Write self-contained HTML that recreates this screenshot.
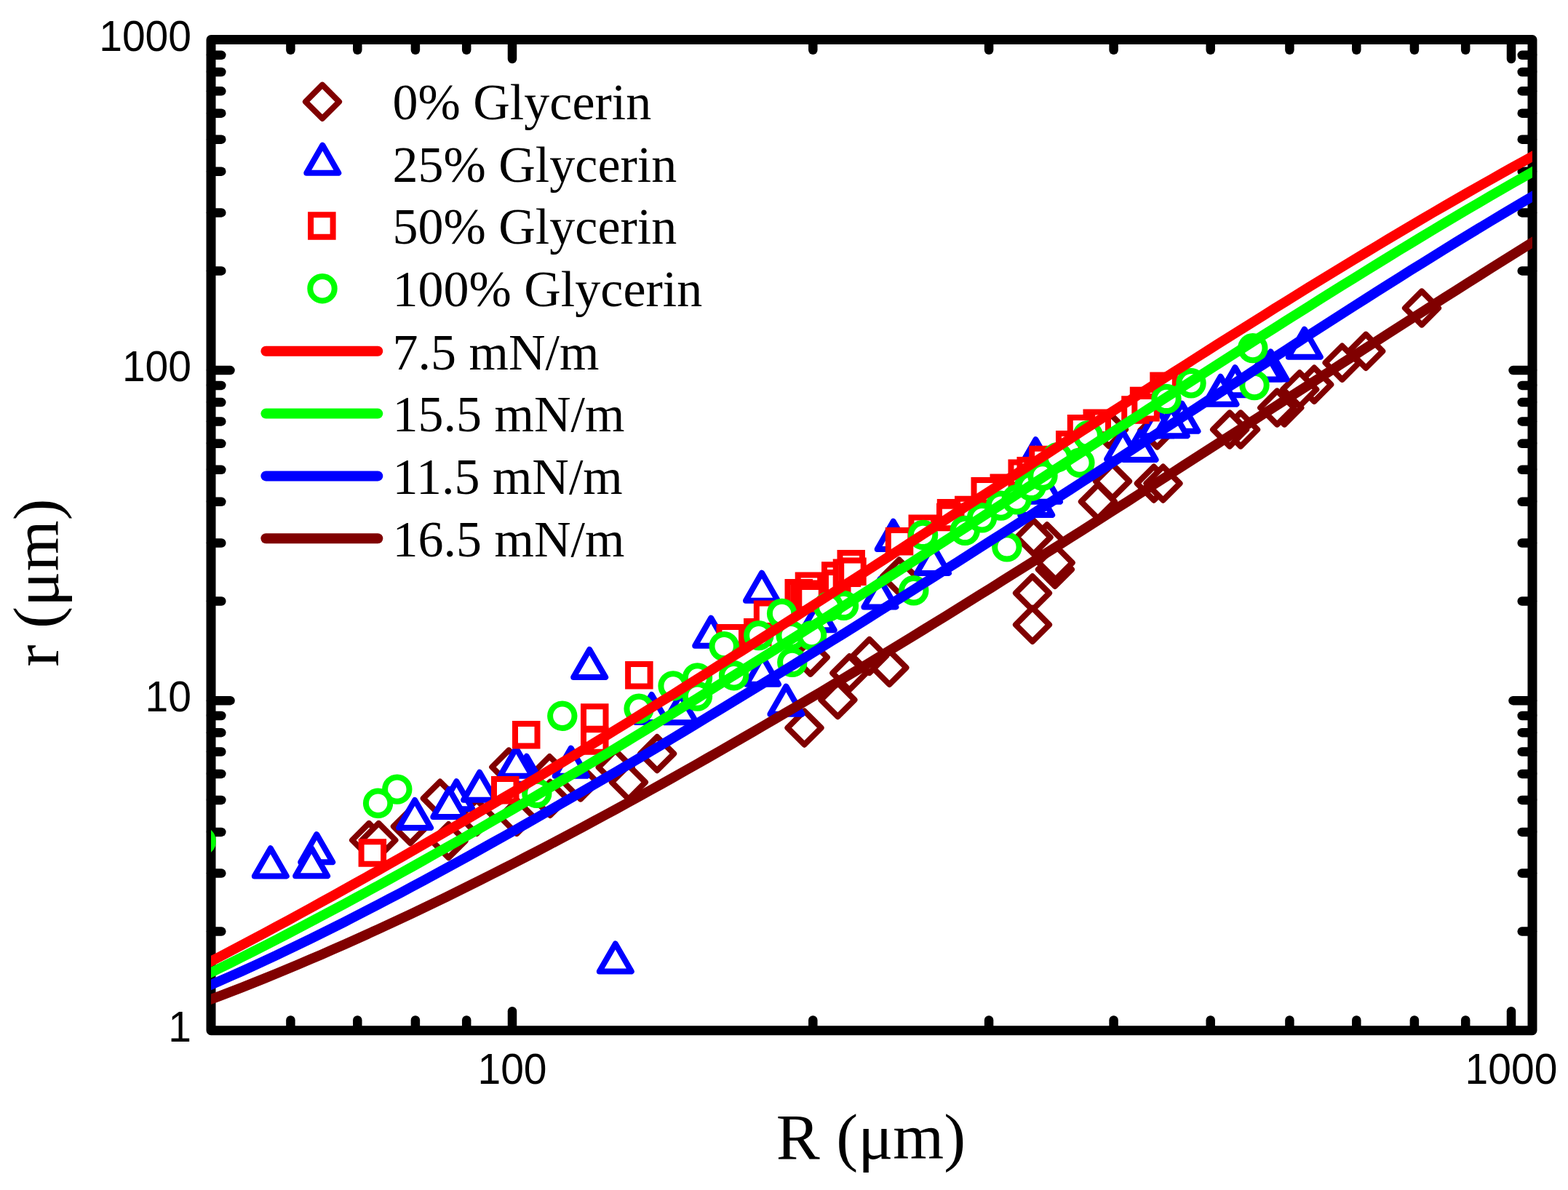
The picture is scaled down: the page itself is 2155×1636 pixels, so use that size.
<!DOCTYPE html>
<html lang="en"><head><meta charset="utf-8"><title>r vs R</title>
<style>html,body{margin:0;padding:0;background:#fff;}body{width:2155px;height:1636px;overflow:hidden;}svg{display:block;}.tk{font-family:"Liberation Sans",Arial,Helvetica,sans-serif;font-size:57px;fill:#000;}.lg{font-family:"Liberation Serif","Times New Roman",Times,serif;font-size:70px;fill:#000;}.ax{font-family:"Liberation Serif","Times New Roman",Times,serif;font-size:88px;fill:#000;}</style></head><body>
<svg xmlns="http://www.w3.org/2000/svg" width="2155" height="1636" viewBox="0 0 2155 1636">
<rect x="0" y="0" width="2155" height="1636" fill="#fff"/>
<defs><clipPath id="pc"><rect x="290.0" y="54.5" width="1816.0" height="1362.2"/></clipPath></defs>
<g stroke="#000" stroke-width="12.5" stroke-linecap="round" fill="none">
<line x1="399.4" y1="1416.7" x2="399.4" y2="1402.4"/>
<line x1="399.4" y1="54.5" x2="399.4" y2="68.8"/>
<line x1="491.3" y1="1416.7" x2="491.3" y2="1402.4"/>
<line x1="491.3" y1="54.5" x2="491.3" y2="68.8"/>
<line x1="570.9" y1="1416.7" x2="570.9" y2="1402.4"/>
<line x1="570.9" y1="54.5" x2="570.9" y2="68.8"/>
<line x1="641.2" y1="1416.7" x2="641.2" y2="1402.4"/>
<line x1="641.2" y1="54.5" x2="641.2" y2="68.8"/>
<line x1="704.0" y1="1416.7" x2="704.0" y2="1390.2"/>
<line x1="704.0" y1="54.5" x2="704.0" y2="81.0"/>
<line x1="1117.3" y1="1416.7" x2="1117.3" y2="1402.4"/>
<line x1="1117.3" y1="54.5" x2="1117.3" y2="68.8"/>
<line x1="1359.1" y1="1416.7" x2="1359.1" y2="1402.4"/>
<line x1="1359.1" y1="54.5" x2="1359.1" y2="68.8"/>
<line x1="1530.6" y1="1416.7" x2="1530.6" y2="1402.4"/>
<line x1="1530.6" y1="54.5" x2="1530.6" y2="68.8"/>
<line x1="1663.7" y1="1416.7" x2="1663.7" y2="1402.4"/>
<line x1="1663.7" y1="54.5" x2="1663.7" y2="68.8"/>
<line x1="1772.4" y1="1416.7" x2="1772.4" y2="1402.4"/>
<line x1="1772.4" y1="54.5" x2="1772.4" y2="68.8"/>
<line x1="1864.3" y1="1416.7" x2="1864.3" y2="1402.4"/>
<line x1="1864.3" y1="54.5" x2="1864.3" y2="68.8"/>
<line x1="1943.9" y1="1416.7" x2="1943.9" y2="1402.4"/>
<line x1="1943.9" y1="54.5" x2="1943.9" y2="68.8"/>
<line x1="2014.2" y1="1416.7" x2="2014.2" y2="1402.4"/>
<line x1="2014.2" y1="54.5" x2="2014.2" y2="68.8"/>
<line x1="2077.0" y1="1416.7" x2="2077.0" y2="1390.2"/>
<line x1="2077.0" y1="54.5" x2="2077.0" y2="81.0"/>
<line x1="290.0" y1="1280.6" x2="304.3" y2="1280.6"/>
<line x1="2106.0" y1="1280.6" x2="2091.7" y2="1280.6"/>
<line x1="290.0" y1="1200.6" x2="304.3" y2="1200.6"/>
<line x1="2106.0" y1="1200.6" x2="2091.7" y2="1200.6"/>
<line x1="290.0" y1="1143.9" x2="304.3" y2="1143.9"/>
<line x1="2106.0" y1="1143.9" x2="2091.7" y2="1143.9"/>
<line x1="290.0" y1="1099.9" x2="304.3" y2="1099.9"/>
<line x1="2106.0" y1="1099.9" x2="2091.7" y2="1099.9"/>
<line x1="290.0" y1="1063.9" x2="304.3" y2="1063.9"/>
<line x1="2106.0" y1="1063.9" x2="2091.7" y2="1063.9"/>
<line x1="290.0" y1="1033.5" x2="304.3" y2="1033.5"/>
<line x1="2106.0" y1="1033.5" x2="2091.7" y2="1033.5"/>
<line x1="290.0" y1="1007.2" x2="304.3" y2="1007.2"/>
<line x1="2106.0" y1="1007.2" x2="2091.7" y2="1007.2"/>
<line x1="290.0" y1="984.0" x2="304.3" y2="984.0"/>
<line x1="2106.0" y1="984.0" x2="2091.7" y2="984.0"/>
<line x1="290.0" y1="963.2" x2="316.5" y2="963.2"/>
<line x1="2106.0" y1="963.2" x2="2079.5" y2="963.2"/>
<line x1="290.0" y1="826.5" x2="304.3" y2="826.5"/>
<line x1="2106.0" y1="826.5" x2="2091.7" y2="826.5"/>
<line x1="290.0" y1="746.5" x2="304.3" y2="746.5"/>
<line x1="2106.0" y1="746.5" x2="2091.7" y2="746.5"/>
<line x1="290.0" y1="689.8" x2="304.3" y2="689.8"/>
<line x1="2106.0" y1="689.8" x2="2091.7" y2="689.8"/>
<line x1="290.0" y1="645.8" x2="304.3" y2="645.8"/>
<line x1="2106.0" y1="645.8" x2="2091.7" y2="645.8"/>
<line x1="290.0" y1="609.8" x2="304.3" y2="609.8"/>
<line x1="2106.0" y1="609.8" x2="2091.7" y2="609.8"/>
<line x1="290.0" y1="579.4" x2="304.3" y2="579.4"/>
<line x1="2106.0" y1="579.4" x2="2091.7" y2="579.4"/>
<line x1="290.0" y1="553.1" x2="304.3" y2="553.1"/>
<line x1="2106.0" y1="553.1" x2="2091.7" y2="553.1"/>
<line x1="290.0" y1="529.9" x2="304.3" y2="529.9"/>
<line x1="2106.0" y1="529.9" x2="2091.7" y2="529.9"/>
<line x1="290.0" y1="509.1" x2="316.5" y2="509.1"/>
<line x1="2106.0" y1="509.1" x2="2079.5" y2="509.1"/>
<line x1="290.0" y1="372.4" x2="304.3" y2="372.4"/>
<line x1="2106.0" y1="372.4" x2="2091.7" y2="372.4"/>
<line x1="290.0" y1="292.4" x2="304.3" y2="292.4"/>
<line x1="2106.0" y1="292.4" x2="2091.7" y2="292.4"/>
<line x1="290.0" y1="235.7" x2="304.3" y2="235.7"/>
<line x1="2106.0" y1="235.7" x2="2091.7" y2="235.7"/>
<line x1="290.0" y1="191.7" x2="304.3" y2="191.7"/>
<line x1="2106.0" y1="191.7" x2="2091.7" y2="191.7"/>
<line x1="290.0" y1="155.7" x2="304.3" y2="155.7"/>
<line x1="2106.0" y1="155.7" x2="2091.7" y2="155.7"/>
<line x1="290.0" y1="125.3" x2="304.3" y2="125.3"/>
<line x1="2106.0" y1="125.3" x2="2091.7" y2="125.3"/>
<line x1="290.0" y1="99.0" x2="304.3" y2="99.0"/>
<line x1="2106.0" y1="99.0" x2="2091.7" y2="99.0"/>
<line x1="290.0" y1="75.8" x2="304.3" y2="75.8"/>
<line x1="2106.0" y1="75.8" x2="2091.7" y2="75.8"/>
</g>
<rect x="290.0" y="54.5" width="1816.0" height="1362.2" fill="none" stroke="#000" stroke-width="13" stroke-linejoin="round"/>
<g clip-path="url(#pc)" fill="#fff" stroke-width="8">
<g stroke="#800000" stroke-linejoin="round"><path d="M507.1 1131.9L530.2 1155.0L507.1 1178.1L484.0 1155.0Z"/><path d="M520.4 1131.9L543.5 1155.0L520.4 1178.1L497.3 1155.0Z"/><path d="M563.9 1113.0L587.0 1136.1L563.9 1159.2L540.8 1136.1Z"/><path d="M604.8 1074.6L627.9 1097.7L604.8 1120.8L581.7 1097.7Z"/><path d="M616.5 1133.0L639.6 1156.1L616.5 1179.2L593.4 1156.1Z"/><path d="M699.3 1031.4L722.4 1054.5L699.3 1077.6L676.2 1054.5Z"/><path d="M755.3 1040.0L778.4 1063.1L755.3 1086.2L732.2 1063.1Z"/><path d="M710.2 1099.9L733.3 1123.0L710.2 1146.1L687.1 1123.0Z"/><path d="M756.1 1074.8L779.2 1097.9L756.1 1121.0L733.0 1097.9Z"/><path d="M797.9 1052.4L821.0 1075.5L797.9 1098.6L774.8 1075.5Z"/><path d="M845.7 1031.8L868.8 1054.9L845.7 1078.0L822.6 1054.9Z"/><path d="M863.9 1052.3L887.0 1075.4L863.9 1098.5L840.8 1075.4Z"/><path d="M903.1 1013.0L926.2 1036.1L903.1 1059.2L880.0 1036.1Z"/><path d="M655.1 1099.9L678.2 1123.0L655.1 1146.1L632.0 1123.0Z"/><path d="M1105.5 977.5L1128.6 1000.6L1105.5 1023.7L1082.4 1000.6Z"/><path d="M1151.4 939.0L1174.5 962.1L1151.4 985.2L1128.3 962.1Z"/><path d="M1222.4 894.8L1245.5 917.9L1222.4 941.0L1199.3 917.9Z"/><path d="M1194.9 878.9L1218.0 902.0L1194.9 925.1L1171.8 902.0Z"/><path d="M1167.3 902.3L1190.4 925.4L1167.3 948.5L1144.2 925.4Z"/><path d="M1113.8 880.6L1136.9 903.7L1113.8 926.8L1090.7 903.7Z"/><path d="M1235.8 769.5L1258.9 792.6L1235.8 815.7L1212.7 792.6Z"/><path d="M1954.0 400.4L1977.1 423.5L1954.0 446.6L1930.9 423.5Z"/><path d="M1877.2 459.7L1900.3 482.8L1877.2 505.9L1854.1 482.8Z"/><path d="M1844.6 475.6L1867.7 498.7L1844.6 521.8L1821.5 498.7Z"/><path d="M1806.2 505.6L1829.3 528.7L1806.2 551.8L1783.1 528.7Z"/><path d="M1786.2 512.3L1809.3 535.4L1786.2 558.5L1763.1 535.4Z"/><path d="M1765.3 537.4L1788.4 560.5L1765.3 583.6L1742.2 560.5Z"/><path d="M1755.2 537.4L1778.3 560.5L1755.2 583.6L1732.1 560.5Z"/><path d="M1705.1 567.4L1728.2 590.5L1705.1 613.6L1682.0 590.5Z"/><path d="M1690.1 567.4L1713.2 590.5L1690.1 613.6L1667.0 590.5Z"/><path d="M1508.9 666.5L1532.0 689.6L1508.9 712.7L1485.8 689.6Z"/><path d="M1524.0 567.3L1547.1 590.4L1524.0 613.5L1500.9 590.4Z"/><path d="M1529.0 638.5L1552.1 661.6L1529.0 684.7L1505.9 661.6Z"/><path d="M1585.8 641.5L1608.9 664.6L1585.8 687.7L1562.7 664.6Z"/><path d="M1598.5 641.5L1621.6 664.6L1598.5 687.7L1575.4 664.6Z"/><path d="M1590.4 568.4L1613.5 591.5L1590.4 614.6L1567.3 591.5Z"/><path d="M1439.0 721.3L1462.1 744.4L1439.0 767.5L1415.9 744.4Z"/><path d="M1420.6 715.5L1443.7 738.6L1420.6 761.7L1397.5 738.6Z"/><path d="M1449.9 759.7L1473.0 782.8L1449.9 805.9L1426.8 782.8Z"/><path d="M1450.7 750.5L1473.8 773.6L1450.7 796.7L1427.6 773.6Z"/><path d="M1419.0 792.3L1442.1 815.4L1419.0 838.5L1395.9 815.4Z"/><path d="M1419.0 835.7L1442.1 858.8L1419.0 881.9L1395.9 858.8Z"/></g>
<g stroke="#0000ff" stroke-linejoin="round"><path d="M371.8 1166.3L393.8 1204.4L349.8 1204.4Z"/><path d="M435.2 1147.1L457.2 1185.2L413.2 1185.2Z"/><path d="M428.1 1166.1L450.1 1204.2L406.1 1204.2Z"/><path d="M570.1 1099.9L592.1 1138.0L548.1 1138.0Z"/><path d="M627.4 1074.2L649.4 1112.3L605.4 1112.3Z"/><path d="M617.3 1085.0L639.3 1123.1L595.3 1123.1Z"/><path d="M659.1 1061.7L681.1 1099.8L637.1 1099.8Z"/><path d="M723.8 1039.7L745.8 1077.8L701.8 1077.8Z"/><path d="M709.4 1028.7L731.4 1066.8L687.4 1066.8Z"/><path d="M784.7 1028.6L806.7 1066.7L762.7 1066.7Z"/><path d="M810.2 893.0L832.2 931.1L788.2 931.1Z"/><path d="M895.6 955.0L917.6 993.1L873.6 993.1Z"/><path d="M1047.0 787.6L1069.0 825.7L1025.0 825.7Z"/><path d="M977.2 849.6L999.2 887.7L955.2 887.7Z"/><path d="M1080.4 943.6L1102.4 981.7L1058.4 981.7Z"/><path d="M1048.0 902.6L1070.0 940.7L1026.0 940.7Z"/><path d="M935.0 955.2L957.0 993.3L913.0 993.3Z"/><path d="M1209.4 796.3L1231.4 834.4L1187.4 834.4Z"/><path d="M1124.7 828.1L1146.7 866.2L1102.7 866.2Z"/><path d="M845.8 1297.4L867.8 1335.5L823.8 1335.5Z"/><path d="M1227.7 716.8L1249.7 754.9L1205.7 754.9Z"/><path d="M1282.0 749.8L1304.0 787.9L1260.0 787.9Z"/><path d="M1792.8 452.6L1814.8 490.7L1770.8 490.7Z"/><path d="M1746.5 483.4L1768.5 521.5L1724.5 521.5Z"/><path d="M1738.8 483.4L1760.8 521.5L1716.8 521.5Z"/><path d="M1697.5 505.1L1719.5 543.2L1675.5 543.2Z"/><path d="M1677.5 517.7L1699.5 555.8L1655.5 555.8Z"/><path d="M1590.8 561.2L1612.8 599.3L1568.8 599.3Z"/><path d="M1624.5 554.7L1646.5 592.8L1602.5 592.8Z"/><path d="M1609.7 561.2L1631.7 599.3L1587.7 599.3Z"/><path d="M1543.1 593.2L1565.1 631.3L1521.1 631.3Z"/><path d="M1566.6 593.9L1588.6 632.0L1544.6 632.0Z"/><path d="M1423.4 604.3L1445.4 642.4L1401.4 642.4Z"/><path d="M1424.2 670.0L1446.2 708.1L1402.2 708.1Z"/><path d="M1435.0 651.6L1457.0 689.7L1413.0 689.7Z"/></g>
<g stroke="#ff0000" stroke-linejoin="miter"><path d="M496.6 1157.2h30.5v30.5h-30.5Z"/><path d="M708.0 995.0h30.5v30.5h-30.5Z"/><path d="M802.0 971.2h30.5v30.5h-30.5Z"/><path d="M802.0 1003.2h30.5v30.5h-30.5Z"/><path d="M679.0 1071.0h30.5v30.5h-30.5Z"/><path d="M863.1 913.0h30.5v30.5h-30.5Z"/><path d="M988.5 862.1h30.5v30.5h-30.5Z"/><path d="M1026.0 854.1h30.5v30.5h-30.5Z"/><path d="M1039.8 829.6h30.5v30.5h-30.5Z"/><path d="M1096.7 790.4h30.5v30.5h-30.5Z"/><path d="M1082.5 800.0h30.5v30.5h-30.5Z"/><path d="M1090.2 804.5h30.5v30.5h-30.5Z"/><path d="M1093.7 801.5h30.5v30.5h-30.5Z"/><path d="M1098.3 806.9h30.5v30.5h-30.5Z"/><path d="M1154.5 760.0h30.5v30.5h-30.5Z"/><path d="M1133.0 776.2h30.5v30.5h-30.5Z"/><path d="M1135.0 787.0h30.5v30.5h-30.5Z"/><path d="M1148.7 772.5h30.5v30.5h-30.5Z"/><path d="M1156.2 770.5h30.5v30.5h-30.5Z"/><path d="M1252.5 711.6h30.5v30.5h-30.5Z"/><path d="M1220.8 729.1h30.5v30.5h-30.5Z"/><path d="M1291.8 690.0h30.5v30.5h-30.5Z"/><path d="M1316.0 685.8h30.5v30.5h-30.5Z"/><path d="M1291.0 695.8h30.5v30.5h-30.5Z"/><path d="M1364.5 655.6h30.5v30.5h-30.5Z"/><path d="M1338.5 659.9h30.5v30.5h-30.5Z"/><path d="M1389.5 635.5h30.5v30.5h-30.5Z"/><path d="M1401.5 632.1h30.5v30.5h-30.5Z"/><path d="M1584.3 515.6h30.5v30.5h-30.5Z"/><path d="M1556.8 535.8h30.5v30.5h-30.5Z"/><path d="M1545.2 548.2h30.5v30.5h-30.5Z"/><path d="M1492.5 566.6h30.5v30.5h-30.5Z"/><path d="M1470.8 574.1h30.5v30.5h-30.5Z"/><path d="M1455.0 595.9h30.5v30.5h-30.5Z"/><path d="M1418.2 616.8h30.5v30.5h-30.5Z"/><path d="M1559.3 544.9h30.5v30.5h-30.5Z"/></g>
<g stroke="#00ff00"><circle cx="276.2" cy="1156.4" r="16.7"/><circle cx="545.8" cy="1085.1" r="16.7"/><circle cx="519.6" cy="1104.3" r="16.7"/><circle cx="772.8" cy="984.3" r="16.7"/><circle cx="878.1" cy="974.3" r="16.7"/><circle cx="737.8" cy="1090.4" r="16.7"/><circle cx="995.2" cy="888.6" r="16.7"/><circle cx="1042.8" cy="873.6" r="16.7"/><circle cx="1074.6" cy="843.5" r="16.7"/><circle cx="925.1" cy="942.9" r="16.7"/><circle cx="958.5" cy="932.0" r="16.7"/><circle cx="958.5" cy="957.1" r="16.7"/><circle cx="1008.6" cy="928.7" r="16.7"/><circle cx="1087.1" cy="873.6" r="16.7"/><circle cx="1088.8" cy="910.4" r="16.7"/><circle cx="1115.5" cy="873.6" r="16.7"/><circle cx="1159.5" cy="832.4" r="16.7"/><circle cx="1138.7" cy="833.9" r="16.7"/><circle cx="1255.8" cy="811.8" r="16.7"/><circle cx="1721.8" cy="478.6" r="16.7"/><circle cx="1724.0" cy="529.5" r="16.7"/><circle cx="1637.0" cy="526.8" r="16.7"/><circle cx="1603.0" cy="548.4" r="16.7"/><circle cx="1483.9" cy="636.1" r="16.7"/><circle cx="1495.2" cy="598.6" r="16.7"/><circle cx="1415.0" cy="667.1" r="16.7"/><circle cx="1383.9" cy="751.9" r="16.7"/><circle cx="1268.6" cy="735.4" r="16.7"/><circle cx="1326.2" cy="729.4" r="16.7"/><circle cx="1349.6" cy="711.8" r="16.7"/><circle cx="1375.5" cy="695.1" r="16.7"/><circle cx="1397.2" cy="686.8" r="16.7"/><circle cx="1417.3" cy="668.4" r="16.7"/><circle cx="1433.0" cy="654.0" r="16.7"/><circle cx="1453.3" cy="628.7" r="16.7"/></g>
</g>
<g clip-path="url(#pc)" fill="none" stroke-width="13.6" stroke-linejoin="round">
<path stroke="#ff0000" d="M270.0 1331.8L285.6 1323.8L301.2 1315.7L316.8 1307.5L332.4 1299.3L348.0 1291.0L363.6 1282.7L379.2 1274.3L394.8 1265.9L410.4 1257.4L426.0 1248.9L441.6 1240.3L457.2 1231.7L472.8 1223.0L488.4 1214.3L503.9 1205.6L519.5 1196.8L535.1 1187.9L550.7 1179.1L566.3 1170.1L581.9 1161.2L597.5 1152.2L613.1 1143.1L628.7 1134.0L644.3 1124.9L659.9 1115.7L675.5 1106.5L691.1 1097.2L706.7 1088.0L722.3 1078.6L737.9 1069.3L753.5 1059.9L769.1 1050.4L784.7 1041.0L800.3 1031.5L815.9 1021.9L831.5 1012.4L847.1 1002.8L862.7 993.2L878.3 983.5L893.9 973.8L909.5 964.1L925.1 954.4L940.7 944.6L956.3 934.8L971.8 925.0L987.4 915.1L1003.0 905.3L1018.6 895.4L1034.2 885.5L1049.8 875.6L1065.4 865.6L1081.0 855.6L1096.6 845.7L1112.2 835.6L1127.8 825.6L1143.4 815.6L1159.0 805.5L1174.6 795.5L1190.2 785.4L1205.8 775.3L1221.4 765.2L1237.0 755.1L1252.6 745.0L1268.2 734.9L1283.8 724.8L1299.4 714.6L1315.0 704.5L1330.6 694.4L1346.2 684.2L1361.8 674.1L1377.4 664.0L1393.0 653.8L1408.6 643.7L1424.2 633.6L1439.7 623.5L1455.3 613.3L1470.9 603.2L1486.5 593.1L1502.1 583.0L1517.7 573.0L1533.3 562.9L1548.9 552.9L1564.5 542.8L1580.1 532.8L1595.7 522.8L1611.3 512.8L1626.9 502.9L1642.5 492.9L1658.1 483.0L1673.7 473.1L1689.3 463.3L1704.9 453.5L1720.5 443.7L1736.1 433.9L1751.7 424.1L1767.3 414.4L1782.9 404.8L1798.5 395.1L1814.1 385.5L1829.7 376.0L1845.3 366.5L1860.9 357.0L1876.5 347.6L1892.1 338.2L1907.6 328.9L1923.2 319.6L1938.8 310.3L1954.4 301.2L1970.0 292.0L1985.6 283.0L2001.2 274.0L2016.8 265.0L2032.4 256.1L2048.0 247.3L2063.6 238.5L2079.2 229.8L2094.8 221.2L2110.4 212.7L2126.0 204.2"/>
<path stroke="#00ff00" d="M270.0 1346.8L285.6 1339.2L301.2 1331.5L316.8 1323.8L332.4 1316.0L348.0 1308.1L363.6 1300.2L379.2 1292.2L394.8 1284.1L410.4 1276.0L426.0 1267.8L441.6 1259.6L457.2 1251.3L472.8 1243.0L488.4 1234.6L503.9 1226.1L519.5 1217.6L535.1 1209.0L550.7 1200.4L566.3 1191.7L581.9 1183.0L597.5 1174.2L613.1 1165.4L628.7 1156.6L644.3 1147.7L659.9 1138.7L675.5 1129.7L691.1 1120.7L706.7 1111.6L722.3 1102.5L737.9 1093.3L753.5 1084.1L769.1 1074.8L784.7 1065.6L800.3 1056.2L815.9 1046.9L831.5 1037.5L847.1 1028.1L862.7 1018.6L878.3 1009.1L893.9 999.6L909.5 990.0L925.1 980.4L940.7 970.8L956.3 961.2L971.8 951.5L987.4 941.8L1003.0 932.1L1018.6 922.3L1034.2 912.5L1049.8 902.7L1065.4 892.9L1081.0 883.0L1096.6 873.2L1112.2 863.3L1127.8 853.4L1143.4 843.4L1159.0 833.5L1174.6 823.5L1190.2 813.5L1205.8 803.5L1221.4 793.5L1237.0 783.5L1252.6 773.4L1268.2 763.3L1283.8 753.3L1299.4 743.2L1315.0 733.1L1330.6 723.0L1346.2 712.9L1361.8 702.8L1377.4 692.7L1393.0 682.5L1408.6 672.4L1424.2 662.3L1439.7 652.1L1455.3 642.0L1470.9 631.9L1486.5 621.7L1502.1 611.6L1517.7 601.5L1533.3 591.3L1548.9 581.2L1564.5 571.1L1580.1 561.0L1595.7 550.9L1611.3 540.9L1626.9 530.8L1642.5 520.7L1658.1 510.7L1673.7 500.7L1689.3 490.7L1704.9 480.7L1720.5 470.8L1736.1 460.8L1751.7 450.9L1767.3 441.0L1782.9 431.2L1798.5 421.4L1814.1 411.6L1829.7 401.8L1845.3 392.1L1860.9 382.4L1876.5 372.7L1892.1 363.1L1907.6 353.6L1923.2 344.0L1938.8 334.6L1954.4 325.1L1970.0 315.7L1985.6 306.4L2001.2 297.1L2016.8 287.9L2032.4 278.8L2048.0 269.7L2063.6 260.6L2079.2 251.7L2094.8 242.8L2110.4 234.0L2126.0 225.2"/>
<path stroke="#0000ff" d="M270.0 1362.3L285.6 1355.7L301.2 1349.0L316.8 1342.1L332.4 1335.2L348.0 1328.1L363.6 1320.9L379.2 1313.6L394.8 1306.2L410.4 1298.7L426.0 1291.1L441.6 1283.4L457.2 1275.6L472.8 1267.8L488.4 1259.8L503.9 1251.8L519.5 1243.8L535.1 1235.6L550.7 1227.4L566.3 1219.1L581.9 1210.7L597.5 1202.3L613.1 1193.8L628.7 1185.3L644.3 1176.7L659.9 1168.0L675.5 1159.3L691.1 1150.6L706.7 1141.8L722.3 1133.0L737.9 1124.1L753.5 1115.2L769.1 1106.2L784.7 1097.2L800.3 1088.1L815.9 1079.0L831.5 1069.9L847.1 1060.8L862.7 1051.6L878.3 1042.3L893.9 1033.1L909.5 1023.8L925.1 1014.5L940.7 1005.1L956.3 995.7L971.8 986.3L987.4 976.9L1003.0 967.4L1018.6 957.9L1034.2 948.4L1049.8 938.9L1065.4 929.3L1081.0 919.7L1096.6 910.1L1112.2 900.5L1127.8 890.8L1143.4 881.1L1159.0 871.4L1174.6 861.7L1190.2 851.9L1205.8 842.1L1221.4 832.3L1237.0 822.5L1252.6 812.7L1268.2 802.8L1283.8 793.0L1299.4 783.1L1315.0 773.2L1330.6 763.2L1346.2 753.3L1361.8 743.3L1377.4 733.4L1393.0 723.4L1408.6 713.4L1424.2 703.3L1439.7 693.3L1455.3 683.3L1470.9 673.2L1486.5 663.1L1502.1 653.0L1517.7 643.0L1533.3 632.9L1548.9 622.7L1564.5 612.6L1580.1 602.5L1595.7 592.4L1611.3 582.2L1626.9 572.1L1642.5 562.0L1658.1 551.8L1673.7 541.7L1689.3 531.6L1704.9 521.5L1720.5 511.3L1736.1 501.2L1751.7 491.1L1767.3 481.1L1782.9 471.0L1798.5 460.9L1814.1 450.9L1829.7 440.9L1845.3 430.9L1860.9 420.9L1876.5 411.0L1892.1 401.1L1907.6 391.2L1923.2 381.4L1938.8 371.6L1954.4 361.9L1970.0 352.2L1985.6 342.5L2001.2 332.9L2016.8 323.4L2032.4 313.9L2048.0 304.5L2063.6 295.2L2079.2 285.9L2094.8 276.7L2110.4 267.6L2126.0 258.6"/>
<path stroke="#800000" d="M270.0 1381.3L285.6 1375.5L301.2 1369.6L316.8 1363.6L332.4 1357.6L348.0 1351.4L363.6 1345.1L379.2 1338.8L394.8 1332.3L410.4 1325.8L426.0 1319.1L441.6 1312.4L457.2 1305.6L472.8 1298.7L488.4 1291.8L503.9 1284.7L519.5 1277.6L535.1 1270.4L550.7 1263.1L566.3 1255.8L581.9 1248.3L597.5 1240.9L613.1 1233.3L628.7 1225.6L644.3 1217.9L659.9 1210.2L675.5 1202.3L691.1 1194.4L706.7 1186.5L722.3 1178.4L737.9 1170.4L753.5 1162.2L769.1 1154.0L784.7 1145.7L800.3 1137.4L815.9 1129.1L831.5 1120.6L847.1 1112.2L862.7 1103.6L878.3 1095.0L893.9 1086.4L909.5 1077.7L925.1 1069.0L940.7 1060.2L956.3 1051.4L971.8 1042.5L987.4 1033.6L1003.0 1024.6L1018.6 1015.6L1034.2 1006.6L1049.8 997.5L1065.4 988.4L1081.0 979.2L1096.6 970.0L1112.2 960.7L1127.8 951.5L1143.4 942.2L1159.0 932.8L1174.6 923.4L1190.2 914.0L1205.8 904.5L1221.4 895.0L1237.0 885.5L1252.6 876.0L1268.2 866.4L1283.8 856.8L1299.4 847.2L1315.0 837.5L1330.6 827.8L1346.2 818.1L1361.8 808.4L1377.4 798.6L1393.0 788.8L1408.6 779.0L1424.2 769.2L1439.7 759.3L1455.3 749.4L1470.9 739.6L1486.5 729.7L1502.1 719.7L1517.7 709.8L1533.3 699.8L1548.9 689.9L1564.5 679.9L1580.1 669.9L1595.7 659.9L1611.3 649.9L1626.9 639.8L1642.5 629.8L1658.1 619.7L1673.7 609.7L1689.3 599.6L1704.9 589.6L1720.5 579.5L1736.1 569.4L1751.7 559.4L1767.3 549.3L1782.9 539.2L1798.5 529.2L1814.1 519.1L1829.7 509.1L1845.3 499.0L1860.9 489.0L1876.5 478.9L1892.1 468.9L1907.6 458.9L1923.2 448.9L1938.8 438.9L1954.4 429.0L1970.0 419.0L1985.6 409.1L2001.2 399.2L2016.8 389.3L2032.4 379.4L2048.0 369.6L2063.6 359.8L2079.2 350.0L2094.8 340.2L2110.4 330.5L2126.0 320.8"/>
</g>
<g fill="#fff" stroke-width="8">
<path stroke="#800000" stroke-linejoin="round" d="M443.0 116.7L466.1 139.8L443.0 162.9L419.9 139.8Z"/>
<path stroke="#0000ff" stroke-linejoin="round" d="M443.3 199.6L465.3 237.7L421.3 237.7Z"/>
<path stroke="#ff0000" d="M427.1 295.2h30.5v30.5h-30.5Z"/>
<g stroke="#00ff00"><circle cx="443.0" cy="396.7" r="16.7"/></g>
</g>
<g fill="none" stroke-width="14" stroke-linecap="round">
<line x1="365.4" y1="482.7" x2="519.3" y2="482.7" stroke="#ff0000"/>
<line x1="365.4" y1="568.6" x2="519.3" y2="568.6" stroke="#00ff00"/>
<line x1="365.4" y1="654.4" x2="519.3" y2="654.4" stroke="#0000ff"/>
<line x1="365.4" y1="740.3" x2="519.3" y2="740.3" stroke="#800000"/>
</g>
<text class="lg" x="539.5" y="164.0">0% Glycerin</text>
<text class="lg" x="539.5" y="249.6">25% Glycerin</text>
<text class="lg" x="539.5" y="335.2">50% Glycerin</text>
<text class="lg" x="539.5" y="420.8">100% Glycerin</text>
<text class="lg" x="539.5" y="507.5">7.5 mN/m</text>
<text class="lg" x="539.5" y="593.2">15.5 mN/m</text>
<text class="lg" x="539.5" y="679.0">11.5 mN/m</text>
<text class="lg" x="539.5" y="764.8">16.5 mN/m</text>
<text class="tk" text-anchor="end" transform="translate(263.0 70.0) scale(1 1.04)">1000</text>
<text class="tk" text-anchor="end" transform="translate(263.0 524.1) scale(1 1.04)">100</text>
<text class="tk" text-anchor="end" transform="translate(263.0 978.2) scale(1 1.04)">10</text>
<text class="tk" text-anchor="end" transform="translate(263.0 1432.3) scale(1 1.04)">1</text>
<text class="tk" text-anchor="middle" transform="translate(704.0 1490.4) scale(1 1.04)">100</text>
<text class="tk" text-anchor="middle" transform="translate(2077.0 1490.4) scale(1 1.04)">1000</text>
<text class="ax" text-anchor="middle" transform="translate(1197.0 1593.3) scale(1.022 1)">R (μm)</text>
<text class="ax" text-anchor="middle" transform="translate(80.3 801.0) rotate(-90) scale(1.025 1)">r (μm)</text>
</svg></body></html>
